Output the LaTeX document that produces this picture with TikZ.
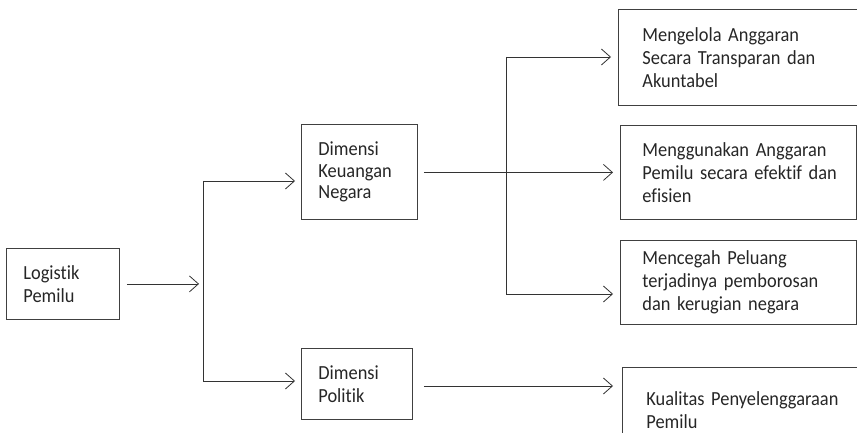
\documentclass[tikz,border=0pt]{standalone}
\usepackage{fontspec}
\setmainfont{Carlito}[FakeStretch=0.92, Ligatures=NoCommon]
\usetikzlibrary{arrows.meta}
\tikzset{
  box/.style={draw=black!75, line width=0.8pt, anchor=north west, align=left,
    inner ysep=0pt, font=\fontsize{20}{23}\selectfont, text=black!85},
  line/.style={draw=black!80, line width=0.8pt},
  arr/.style={line, -{Straight Barb[length=9pt,width=16pt,line width=0.8pt]}}
}
\newcommand{\bx}[7]{% name, x1, y1, x2, y2, inset, text
  \node[box, minimum width=#4pt-#2pt, minimum height=#5pt-#3pt,
        text width=#4pt-#2pt-2*#6pt, inner xsep=#6pt] (#1) at (#2,#3) {#7};}
\begin{document}
\begin{tikzpicture}[x=1pt,y=-1pt]
\useasboundingbox (0,0) rectangle (857,433);
\begin{scope}
\clip (0,0) rectangle (857,433);
\bx{log}{6}{248}{119}{319}{17}{\mbox{Logistik}\\\mbox{Pemilu}}
\bx{keu}{301}{124}{417}{219}{17}{\mbox{Dimensi}\\[-1.5pt]\mbox{Keuangan}\\[-1.5pt]\mbox{Negara}}
\bx{pol}{301}{348}{412}{419}{17}{\mbox{Dimensi}\\\mbox{Politik}}
\bx{ra}{618}{9}{880}{105}{24}{\mbox{Mengelola Anggaran}\\\mbox{Secara Transparan dan}\\\mbox{Akuntabel}}
\bx{rb}{620}{125}{856}{219}{22}{\mbox{Menggunakan Anggaran}\\\mbox{Pemilu secara efektif dan}\\\mbox{efisien}}
\bx{rc}{620}{240}{856}{324}{22}{\mbox{Mencegah Peluang}\\\mbox{terjadinya pemborosan}\\\mbox{dan kerugian negara}}
\node[box, minimum width=258pt, minimum height=90pt, text width=210pt, inner xsep=20pt,
      anchor=north west] (rd) at (622,367) {\vspace*{0pt}\\[-14pt]\mbox{Kualitas Penyelenggaraan}\\\mbox{Pemilu}\\[8pt]};
\end{scope}
\coordinate (tL1) at (203,181);
\coordinate (tL2) at (203,381);
\coordinate (tR1) at (506,57);
\coordinate (tR2) at (506,294);
% left tree
\draw[arr] ([xshift=7pt]log.east) -- ([xshift=-4pt]tL1 |- log.east);
\draw[line] (tL1) -- (tL2);
\draw[arr] (tL1) -- ([xshift=-6pt]keu.west |- tL1);
\draw[arr] (tL2) -- ([xshift=-6pt]pol.west |- tL2);
% right tree
\draw[arr] ([xshift=6pt]keu.east |- rb.west) -- ([xshift=-7pt]rb.west);
\draw[line] (tR1) -- (tR2);
\draw[arr] (tR1) -- ([xshift=-7pt]ra.west |- tR1);
\draw[arr] (tR2) -- ([xshift=-7pt]rc.west |- tR2);
\draw[arr] ([xshift=11pt]pol.east |- 0,386) -- ([xshift=-9pt]rd.west |- 0,386);
\end{tikzpicture}
\end{document}
